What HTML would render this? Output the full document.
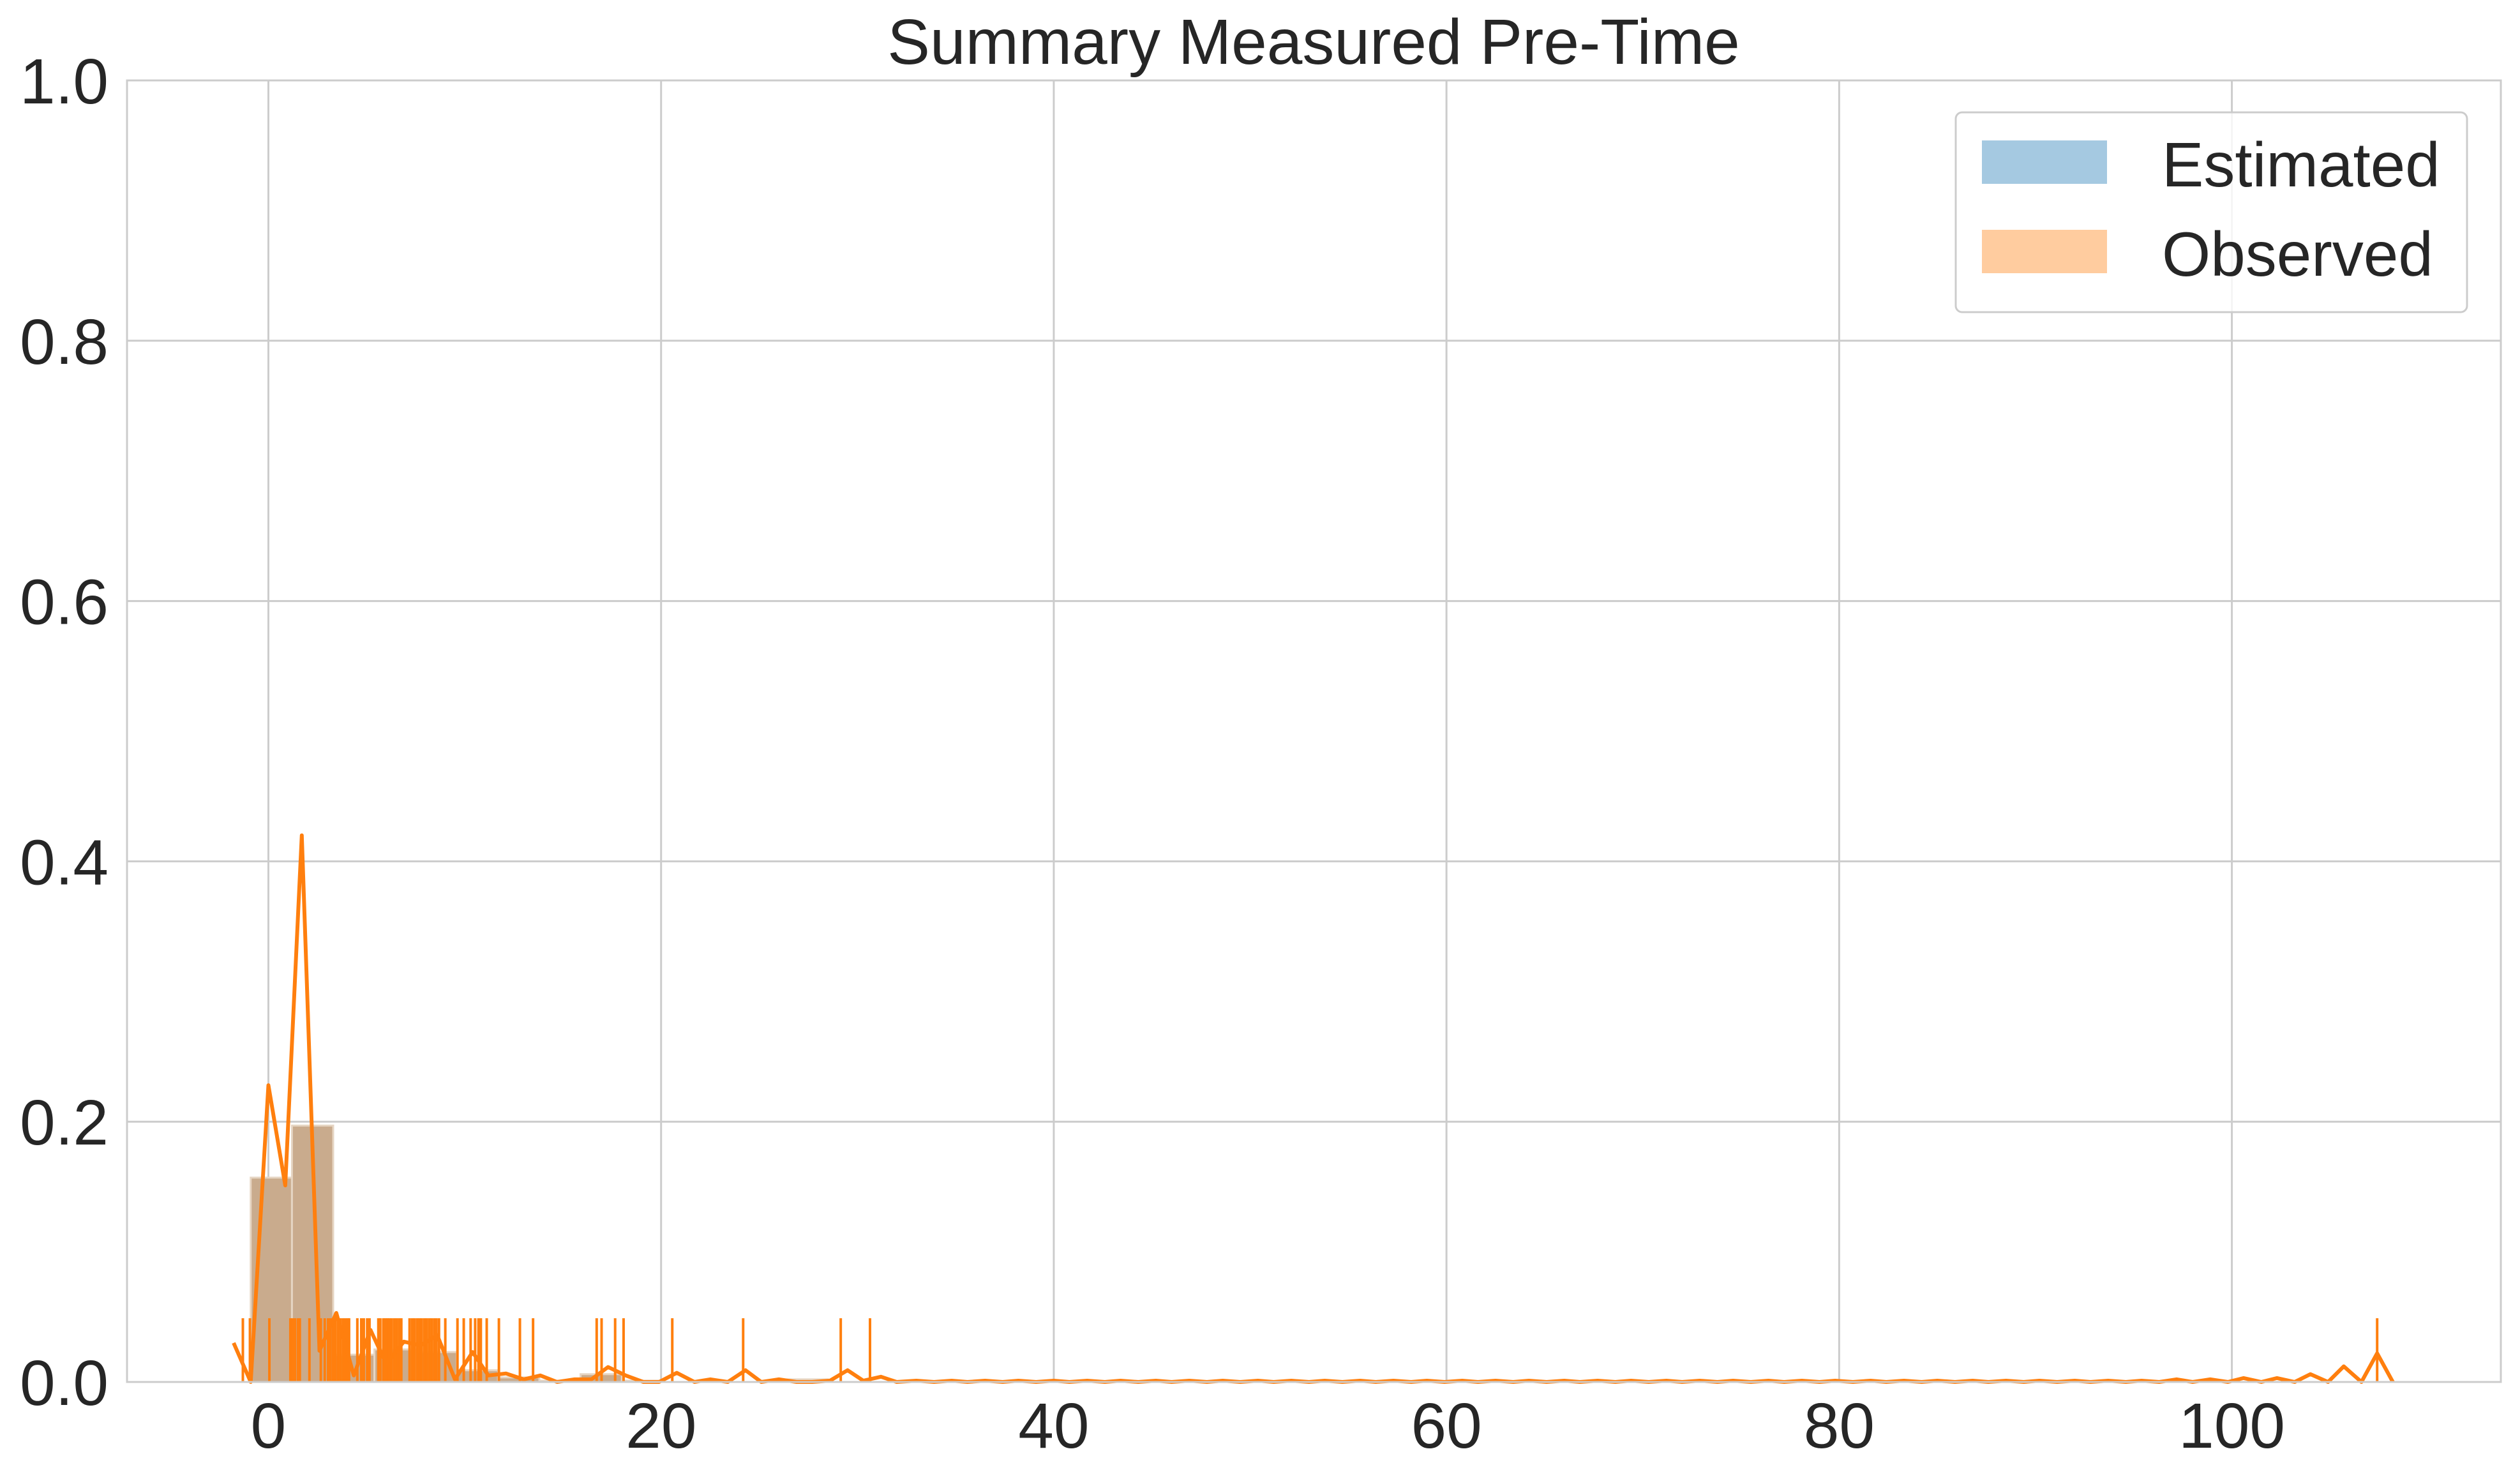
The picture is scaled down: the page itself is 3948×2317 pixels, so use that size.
<!DOCTYPE html>
<html><head><meta charset="utf-8"><style>
html,body{margin:0;padding:0;background:#fff;}
svg{display:block;font-family:"Liberation Sans",Arial,sans-serif;}
</style></head><body>
<svg id="chart" width="3948" height="2317" viewBox="0 0 3948 2317" xmlns="http://www.w3.org/2000/svg">
<rect x="0" y="0" width="3948" height="2317" fill="#ffffff"/>
<g id="grid"></g>
<g id="bars"></g>
<g id="rug"></g>
<g id="line"></g>
<rect x="199" y="126" width="3719" height="2039" fill="none" stroke="#cccccc" stroke-width="3"/>
<g id="ticks"></g>
<text x="2058" y="100" text-anchor="middle" font-size="100" fill="#262626">Summary Measured Pre-Time</text>
<g>
<rect x="3064" y="176" width="801" height="313" rx="10" fill="#ffffff" fill-opacity="0.8" stroke="#cccccc" stroke-width="3"/>
<rect x="3105" y="220" width="196" height="68" fill="#a5c9e1"/>
<text x="3387" y="292" font-size="98" fill="#262626">Estimated</text>
<rect x="3105" y="360" width="196" height="68" fill="#ffcc9f"/>
<text x="3387" y="432" font-size="98" fill="#262626">Observed</text>
</g>
</svg>
<script>
const xTicks = [0, 20, 40, 60, 80, 100];
const yTicks = [0.0, 0.2, 0.4, 0.6, 0.8, 1.0];
const yTickLabels = ["0.0", "0.2", "0.4", "0.6", "0.8", "1.0"];
const binStart = -0.9;
const binWidth = 2.1;
const binValues = [0.157, 0.197, 0.021, 0.025, 0.023, 0.009, 0.0035, 0.001, 0.006, 0.001, 0, 0, 0, 0.002];
const lineX = [-1.77,-0.9,0.0,0.86,1.7,2.6,3.46,4.35,5.2,6.0,6.9,7.75,8.6,9.5,10.4,11.2,12.1,13.0,13.85,14.7,15.6,16.45,17.3,18.2,19.1,19.9,20.8,21.7,22.5,23.4,24.3,25.1,26.0,26.9,27.7,28.6,29.5,30.3,31.2,32.0,33.0];
const lineY = [0.030,0.0,0.228,0.151,0.42,0.024,0.053,0.005,0.04,0.014,0.031,0.028,0.036,0.002,0.023,0.005,0.0065,0.002,0.005,0.0,0.002,0.002,0.0115,0.005,0.0,0.0,0.007,0.0,0.002,0.0,0.009,0.0,0.002,0.0,0.0,0.001,0.009,0.001,0.004,0.0,0.001];
const tailX = [33.9,34.8,35.6,36.5,37.4,38.2,39.1,40.0,40.8,41.7,42.6,43.4,44.3,45.2,46.0,46.9,47.8,48.6,49.5,50.4,51.2,52.1,53.0,53.8,54.7,55.6,56.4,57.3,58.2,59.0,59.9,60.8,61.6,62.5,63.4,64.2,65.1,66.0,66.8,67.7,68.6,69.4,70.3,71.2,72.0,72.9,73.8,74.6,75.5,76.4,77.2,78.1,79.0,79.8,80.7,81.6,82.4,83.3,84.2,85.0,85.9,86.8,87.6,88.5,89.4,90.2,91.1,92.0,92.8,93.7,94.6,95.4,96.3,97.2,98.0,98.9,99.8,100.6,101.5,102.3,103.2,104.0,104.9,105.7,106.6,107.4,108.2];
const tailY = [0,0.001,0,0.001,0,0.001,0,0.001,0,0.001,
0,0.001,0,0.001,0,0.001,0,0.001,0,0.001,
0,0.001,0,0.001,0,0.001,0,0.001,0,0.001,
0,0.001,0,0.001,0,0.001,0,0.001,0,0.001,
0,0.001,0,0.001,0,0.001,0,0.001,0,0.001,
0,0.001,0,0.001,0,0.001,0,0.001,0,0.001,
0,0.001,0,0.001,0,0.001,0,0.001,0,0.001,
0,0.001,0,0.002,0,0.002,0,0.003,0,0.003,0,0.006,0,0.012,0,0.022,0];
const rugX = [-1.3,-0.94,0.05,1.12,1.22,1.35,1.5,1.6,2.09,2.67,2.87,3.04,3.16,3.29,3.41,3.54,3.66,3.79,3.91,4.03,4.11,4.53,4.73,4.86,5.03,5.15,5.6,5.7,5.85,5.95,6.05,6.15,6.27,6.4,6.52,6.65,6.77,7.19,7.32,7.44,7.57,7.69,7.81,7.94,8.06,8.19,8.31,8.44,8.56,8.69,9.01,9.63,9.95,10.3,10.53,10.7,10.82,11.12,11.74,12.81,13.48,16.72,16.97,17.66,18.09,20.57,24.18,29.15,30.64,107.4];

const X0 = 199, X1 = 3918, Y0 = 2165, Y1 = 126;
const xMin = -7.2, xMax = 113.7, yMin = 0, yMax = 1;
function sx(v){ return X0 + (v - xMin) / (xMax - xMin) * (X1 - X0); }
function sy(v){ return Y0 - (v - yMin) / (yMax - yMin) * (Y0 - Y1); }
const NS = "http://www.w3.org/2000/svg";
function mk(tag, attrs, parent){ const e = document.createElementNS(NS, tag); for (const k in attrs) e.setAttribute(k, attrs[k]); parent.appendChild(e); return e; }

const grid = document.getElementById('grid');
const ticks = document.getElementById('ticks');
xTicks.forEach(t => {
  const l = mk('line', {x1: sx(t), x2: sx(t), y1: Y1, y2: Y0, stroke: '#cccccc', 'stroke-width': 3}, grid);
  
  
  const tx = mk('text', {x: sx(t), y: 2268, 'text-anchor': 'middle', 'font-size': 100, fill: '#262626'}, ticks);
  tx.textContent = String(t);
  
  
});
yTicks.forEach((t, i) => {
  const l = mk('line', {x1: X0, x2: X1, y1: sy(t), y2: sy(t), stroke: '#cccccc', 'stroke-width': 3}, grid);
  
  
  const tx = mk('text', {x: 170, y: sy(t) + 36, 'text-anchor': 'end', 'font-size': 100, fill: '#262626'}, ticks);
  tx.textContent = yTickLabels[i];
  
  
});

const bars = document.getElementById('bars');
binValues.forEach((v, i) => {
  const a = binStart + i * binWidth, b = a + binWidth;
  const r = mk('rect', {x: sx(a), y: sy(v), width: sx(b) - sx(a), height: sy(0) - sy(v), fill: '#c9ab8d', stroke: '#e6d5c3', 'stroke-width': 3}, bars);
  
  
});

const rug = document.getElementById('rug');
rugX.forEach(v => {
  const l = mk('line', {x1: sx(v), x2: sx(v), y1: sy(0), y2: sy(0.049), stroke: '#ff7f0e', 'stroke-width': 4}, rug);
  
  
});

const allX = lineX.concat(tailX), allY = lineY.concat(tailY);
const pts = allX.map((x, i) => sx(x).toFixed(1) + ',' + sy(allY[i]).toFixed(1)).join(' ');
const pl = mk('polyline', {points: pts, fill: 'none', stroke: '#ff7f0e', 'stroke-width': 6, 'stroke-linejoin': 'round'}, document.getElementById('line'));


</script>
</body></html>
